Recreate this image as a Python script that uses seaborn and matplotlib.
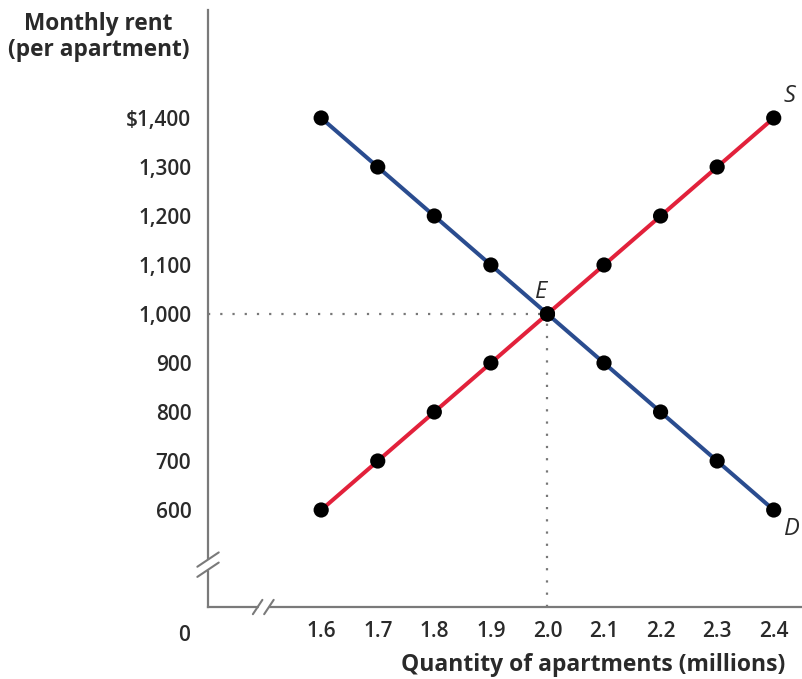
import matplotlib
matplotlib.use("Agg")
import matplotlib.pyplot as plt
import seaborn as sns
import pandas as pd

# data
quantity = [1.6, 1.7, 1.8, 1.9, 2.0, 2.1, 2.2, 2.3, 2.4]
demand_rent = [1400, 1300, 1200, 1100, 1000, 900, 800, 700, 600]
supply_rent = [600, 700, 800, 900, 1000, 1100, 1200, 1300, 1400]
eq_q, eq_p = 2.0, 1000
y_ticks = [600, 700, 800, 900, 1000, 1100, 1200, 1300, 1400]
y_ticklabels = ["600", "700", "800", "900", "1,000", "1,100", "1,200", "1,300", "$1,400"]
x_ticklabels = ["1.6", "1.7", "1.8", "1.9", "2.0", "2.1", "2.2", "2.3", "2.4"]

sns.set_style("white")
plt.rcParams['font.family'] = ['Open Sans', 'DejaVu Sans']

df = pd.DataFrame({"q": quantity, "demand": demand_rent, "supply": supply_rent})

fig = plt.figure(figsize=(8.02, 6.79), dpi=100)
ax = fig.add_axes([0.2594, 0.106, 0.7406, 0.879])

spine_col = "#7a7a7a"
text_col = "#2a2a2a"

# dotted guides
ax.plot([1.4, eq_q], [eq_p, eq_p], linestyle=(0, (1, 4.5)), color="#777777", lw=1.6, zorder=1)
ax.plot([eq_q, eq_q], [402, eq_p], linestyle=(0, (1, 4.5)), color="#777777", lw=1.6, zorder=1)

sns.lineplot(data=df, x="q", y="supply", ax=ax, color="#e2213b", lw=2.9, zorder=2)
sns.lineplot(data=df, x="q", y="demand", ax=ax, color="#2a4c8f", lw=2.9, zorder=2)
sns.scatterplot(data=df, x="q", y="supply", ax=ax, color="black", s=120, edgecolor="none", zorder=3)
sns.scatterplot(data=df, x="q", y="demand", ax=ax, color="black", s=120, edgecolor="none", zorder=3)

ax.set_xlim(1.4, 2.45)
ax.set_ylim(402, 1620)
sns.despine(ax=ax)
for s in ["left", "bottom"]:
    ax.spines[s].set_color(spine_col)
    ax.spines[s].set_linewidth(1.6)

ax.set_xticks(quantity)
ax.set_xticklabels(x_ticklabels)
ax.set_yticks(y_ticks)
ax.set_yticklabels(y_ticklabels)
ax.tick_params(axis="x", direction="in", length=9, width=1.3, color=spine_col,
               labelsize=15, labelcolor=text_col, pad=10)
ax.tick_params(axis="y", direction="in", length=11, width=1.3, color=spine_col,
               labelsize=15, labelcolor=text_col, pad=12)
for lab in ax.get_xticklabels() + ax.get_yticklabels():
    lab.set_fontweight("semibold")
ax.set_xlabel("")
ax.set_ylabel("")

# axis breaks
def brk(x0, y0, dx, dy, gap_dx, gap_dy, gap_w, gap_h):
    ax.add_patch(plt.Rectangle((x0 - gap_w / 2, y0 - gap_h / 2), gap_w, gap_h,
                               transform=ax.transAxes, color="white", zorder=4, clip_on=False))
    for off in (-1, 1):
        cx, cy = x0 + off * gap_dx, y0 + off * gap_dy
        ax.plot([cx - dx, cx + dx], [cy - dy, cy + dy], transform=ax.transAxes,
                color=spine_col, lw=1.5, clip_on=False, zorder=5)

brk(0.0, 0.071, 0.018, 0.012, 0.0, 0.0085, 0.006, 0.015)
brk(0.093, 0.0, 0.008, 0.012, 0.0095, 0.0, 0.016, 0.006)

ax.text(-0.04, -0.047, "0", transform=ax.transAxes, ha="center", va="center",
        fontsize=15, fontweight="semibold", color=text_col)

ax.text(eq_q - 0.001, eq_p + 20, "E", ha="right", va="bottom", fontsize=17,
        style="italic", color=text_col)
ax.text(2.418, 1420, "S", ha="left", va="bottom", fontsize=17, style="italic", color=text_col)
ax.text(2.418, 585, "D", ha="left", va="top", fontsize=17, style="italic", color=text_col)

fig.text(0.123, 0.945, "Monthly rent\n(per apartment)", ha="center", va="center",
         fontsize=16.3, fontweight="bold", color=text_col, linespacing=1.1)
fig.text(0.979, 0.02, "Quantity of apartments (millions)", ha="right", va="center",
         fontsize=16.5, fontweight="bold", color=text_col)

fig.savefig("out.png", dpi=100)
